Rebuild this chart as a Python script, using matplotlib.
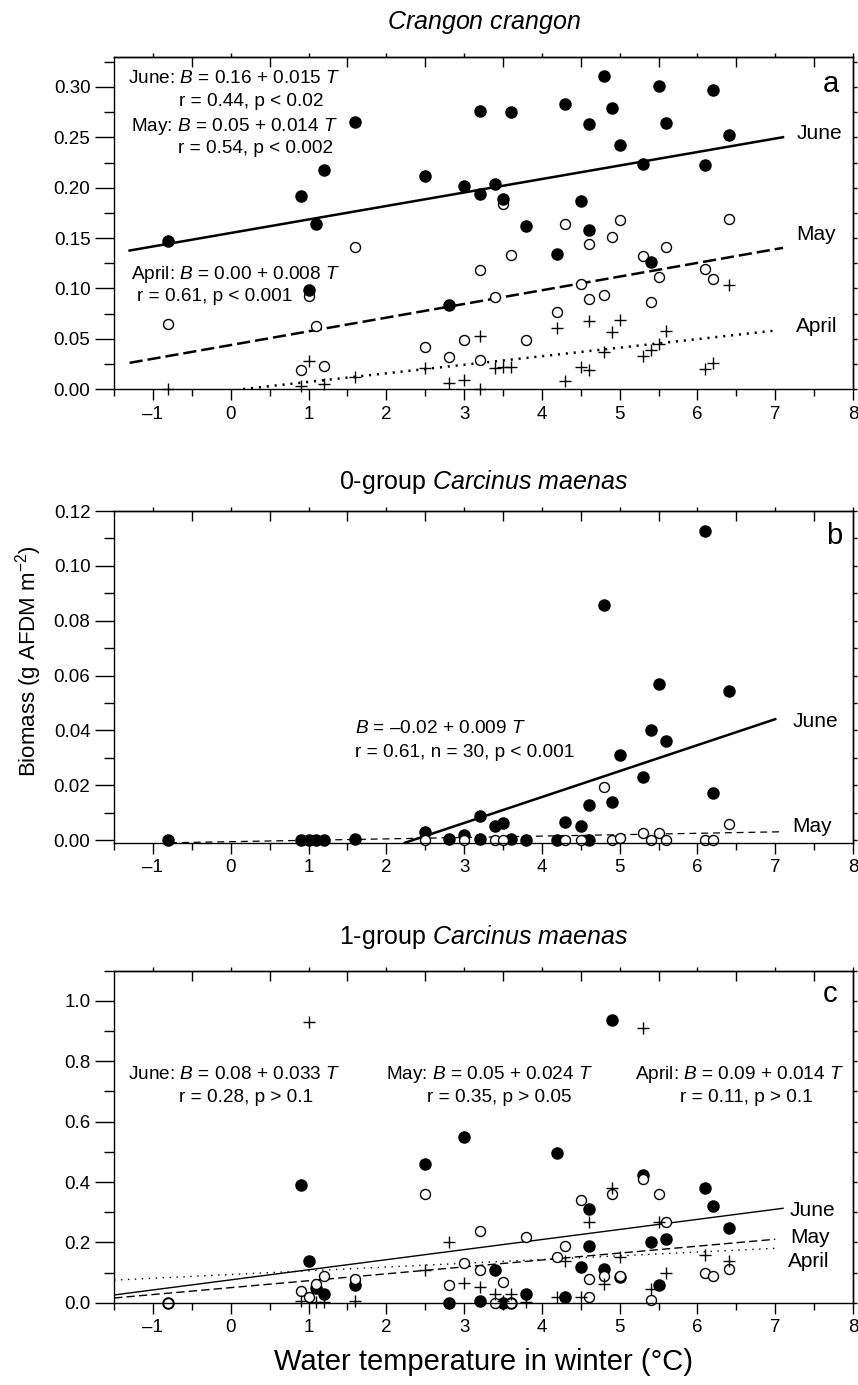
import numpy as np
import matplotlib
matplotlib.use("Agg")
from matplotlib import pyplot as plt
from matplotlib.ticker import MultipleLocator, FormatStrFormatter, FixedLocator

plt.rcParams['font.family'] = ['Liberation Sans', 'DejaVu Sans']
plt.rcParams['mathtext.fontset'] = 'custom'
plt.rcParams['mathtext.rm'] = 'Liberation Sans'
plt.rcParams['mathtext.it'] = 'Liberation Sans:italic'
plt.rcParams['mathtext.bf'] = 'Liberation Sans:bold'
plt.rcParams['lines.scale_dashes'] = False

nan = np.nan

# winter water temperature (deg C), one entry per year
temp = [-0.8, 0.9, 1.0, 1.1, 1.2, 1.6, 2.5, 2.8, 3.0, 3.2, 3.2, 3.4, 3.5, 3.6, 3.8,
        4.2, 4.3, 4.5, 4.6, 4.6, 4.8, 4.9, 5.0, 5.3, 5.4, 5.5, 5.6, 6.1, 6.2, 6.4]

# a: Crangon crangon
a_june = [0.147, 0.192, 0.098, 0.164, 0.218, 0.265, 0.212, 0.083, 0.202, 0.194,
          0.276, 0.204, 0.189, 0.275, 0.162, 0.134, 0.283, 0.187, 0.263, 0.158,
          0.311, 0.279, 0.242, 0.224, 0.126, 0.301, 0.264, 0.223, 0.297, 0.252]
a_may = [0.065, 0.019, 0.092, 0.063, 0.023, 0.141, 0.042, 0.032, 0.049, 0.118,
         0.029, 0.091, 0.184, 0.133, 0.049, 0.077, 0.164, 0.104, 0.144, 0.089,
         0.093, 0.151, 0.168, 0.132, 0.086, 0.111, 0.141, 0.119, 0.109, 0.169]
a_april = [0.000, 0.003, 0.028, nan, 0.005, 0.012, 0.021, 0.006, 0.009, 0.053,
           0.000, 0.021, 0.022, 0.022, nan, 0.061, 0.008, 0.022, 0.019, 0.068,
           0.037, 0.057, 0.069, 0.033, 0.039, 0.045, 0.058, 0.020, 0.026, 0.103]

# b: 0-group Carcinus maenas
b_june = [0.0, 0.0, 0.0, 0.0, 0.0, 0.0003, 0.003, 0.0003, 0.0018, 0.0087,
          0.0003, 0.0051, 0.0063, 0.0004, 0.0, 0.0, 0.0064, 0.0052, 0.0127, 0.0,
          0.0858, 0.0139, 0.0309, 0.0230, 0.0400, 0.0570, 0.0360, 0.1127, 0.0170, 0.0543]
b_may = [nan, nan, nan, nan, nan, nan, 0.0, nan, 0.0, nan,
         nan, 0.0, 0.0, nan, nan, nan, 0.0, 0.0, nan, nan,
         0.0192, 0.0, 0.0008, 0.0026, 0.0, 0.0027, 0.0, 0.0, 0.0, 0.0057]

# c: 1-group Carcinus maenas
c_june = [0.0, 0.389, 0.139, 0.049, 0.029, 0.059, 0.459, 0.0, 0.548, 0.007,
          nan, 0.109, 0.0, 0.0, 0.029, 0.497, 0.020, 0.119, 0.310, 0.189,
          0.111, 0.938, 0.086, 0.422, 0.200, 0.060, 0.211, 0.379, 0.319, 0.249]
c_may = [0.0, 0.040, 0.020, 0.062, 0.089, 0.080, 0.360, 0.060, 0.130, 0.238,
         0.109, 0.0, 0.069, 0.0, 0.219, 0.150, 0.189, 0.340, 0.080, 0.020,
         0.089, 0.360, 0.089, 0.409, 0.009, 0.360, 0.269, 0.098, 0.089, 0.111]
c_april = [nan, 0.007, 0.930, 0.003, 0.003, 0.007, 0.108, 0.200, 0.067, 0.051,
           nan, 0.029, 0.005, 0.029, 0.001, 0.020, 0.139, 0.020, 0.269, nan,
           0.062, 0.381, 0.150, 0.910, 0.045, 0.269, 0.098, 0.158, nan, 0.139]

# regression lines as drawn: intercept, slope, x start, x end  (June, May, April)
a_fit_int = [0.155, 0.0437, -0.0014]
a_fit_slope = [0.0134, 0.0136, 0.0085]
a_fit_x0 = [-1.3, -1.3, 0.16]
a_fit_x1 = [7.1, 7.1, 7.0]

b_fit_int = [-0.0222, -0.0006]
b_fit_slope = [0.00947, 0.00051]
b_fit_x0 = [2.24, -0.78]
b_fit_x1 = [7.0, 7.08]

c_fit_int = [0.0758, 0.050, 0.0935]
c_fit_slope = [0.0334, 0.0229, 0.0124]
c_fit_x0 = [-1.5, -1.5, -1.5]
c_fit_x1 = [7.1, 7.0, 7.05]

xticks = [-1, 0, 1, 2, 3, 4, 5, 6, 7, 8]
xticklabels = ['\u20131', '0', '1', '2', '3', '4', '5', '6', '7', '8']

FS_TICK = 13.5
FS_NOTE = 13.7
FS_LAB = 15
FS_PANEL = 21
FS_TITLE = 18


def setup(ax, ymin, ymax, ystep, fmt):
    ax.set_xlim(-1.5, 8)
    ax.set_ylim(ymin, ymax)
    ax.set_xticks(xticks)
    ax.set_xticklabels(xticklabels)
    ax.xaxis.set_minor_locator(MultipleLocator(0.5))
    ax.yaxis.set_major_locator(MultipleLocator(ystep))
    ax.yaxis.set_minor_locator(MultipleLocator(ystep / 2))
    ax.yaxis.set_major_formatter(FormatStrFormatter(fmt))
    ax.tick_params(which='major', direction='out', width=1, labelsize=FS_TICK)
    ax.tick_params(axis='x', which='major', length=8, pad=4)
    ax.tick_params(axis='y', which='major', length=14, pad=3)
    ax.tick_params(axis='x', which='minor', direction='out', length=5, width=1)
    ax.tick_params(axis='y', which='minor', direction='out', length=7, width=1)
    for s in ax.spines.values():
        s.set_linewidth(1)
    top = ax.secondary_xaxis('top')
    top.set_xticks(xticks)
    top.tick_params(which='major', direction='out', length=3, width=1, labeltop=False)
    top.xaxis.set_minor_locator(FixedLocator(np.arange(-0.5, 8, 1.0)))
    top.tick_params(which='minor', direction='in', length=7, width=1)
    top.spines['top'].set_linewidth(1)
    right = ax.secondary_yaxis('right')
    right.yaxis.set_major_locator(MultipleLocator(ystep / 2))
    right.tick_params(which='major', direction='out', length=3, width=1, labelright=False)
    right.spines['right'].set_linewidth(1)


def fit_line(ax, b0, b1, x0, x1, **kw):
    xs = np.array([x0, x1])
    ax.plot(xs, b0 + b1 * xs, color='black', **kw)


fig = plt.figure(figsize=(8.58, 13.85), dpi=100)
L, W = 0.1329, 0.8613
ax_a = fig.add_axes([L, 0.7191, W, 0.2399])
ax_b = fig.add_axes([L, 0.3915, W, 0.2395])
ax_c = fig.add_axes([L, 0.0594, W, 0.2397])

filled = dict(ls='none', marker='o', ms=8, color='black', clip_on=False)
opened = dict(ls='none', marker='o', ms=7.2, mfc='white', mec='black', mew=1.0, clip_on=False)
cross = dict(ls='none', marker='+', ms=8, color='black', mew=1.0, clip_on=False)

# ---- a
ax = ax_a
setup(ax, 0, 0.33, 0.05, '%.2f')
fit_line(ax, a_fit_int[0], a_fit_slope[0], a_fit_x0[0], a_fit_x1[0], lw=1.8)
fit_line(ax, a_fit_int[1], a_fit_slope[1], a_fit_x0[1], a_fit_x1[1], lw=1.8, ls=(0, (9.5, 3.6)))
fit_line(ax, a_fit_int[2], a_fit_slope[2], a_fit_x0[2], a_fit_x1[2], lw=1.8, ls=(0, (1.5, 4.2)))
ax.plot(temp, a_may, **opened)
ax.plot(temp, a_june, **filled)
ax.plot(temp, a_april, **cross)
ax.text(7.27, 0.254, 'June', fontsize=FS_LAB, va='center')
ax.text(7.27, 0.153, 'May', fontsize=FS_LAB, va='center')
ax.text(7.26, 0.0625, 'April', fontsize=FS_LAB, va='center')
ax.text(7.82, 0.303, 'a', fontsize=FS_PANEL, va='center', ha='right')
ax.text(-1.32, 0.308, 'June: $B$ = 0.16 + 0.015 $T$', fontsize=FS_NOTE, va='center')
ax.text(-0.665, 0.286, 'r = 0.44, p < 0.02', fontsize=FS_NOTE, va='center')
ax.text(-1.28, 0.261, 'May: $B$ = 0.05 + 0.014 $T$', fontsize=FS_NOTE, va='center')
ax.text(-0.68, 0.2385, 'r = 0.54, p < 0.002', fontsize=FS_NOTE, va='center')
ax.text(-1.28, 0.114, 'April: $B$ = 0.00 + 0.008 $T$', fontsize=FS_NOTE, va='center')
ax.text(-1.20, 0.0916, 'r = 0.61, p < 0.001', fontsize=FS_NOTE, va='center')
ax.set_title('$Crangon\\ crangon$', fontsize=FS_TITLE, pad=20)

# ---- b
ax = ax_b
setup(ax, -0.001, 0.12, 0.02, '%.2f')
fit_line(ax, b_fit_int[0], b_fit_slope[0], b_fit_x0[0], b_fit_x1[0], lw=1.8)
fit_line(ax, b_fit_int[1], b_fit_slope[1], b_fit_x0[1], b_fit_x1[1], lw=0.9, ls=(0, (5, 3.5)))
ax.plot(temp, b_june, **filled)
ax.plot(temp, b_may, **opened)
ax.text(7.22, 0.0434, 'June', fontsize=FS_LAB, va='center')
ax.text(7.22, 0.0048, 'May', fontsize=FS_LAB, va='center')
ax.text(7.86, 0.111, 'b', fontsize=FS_PANEL, va='center', ha='right')
ax.text(1.6, 0.0406, '$B$ = \u20130.02 + 0.009 $T$', fontsize=FS_NOTE, va='center')
ax.text(1.6, 0.0321, 'r = 0.61, n = 30, p < 0.001', fontsize=FS_NOTE, va='center')
ax.set_title('0-group $Carcinus\\ maenas$', fontsize=FS_TITLE, pad=16)

# ---- c
ax = ax_c
setup(ax, 0, 1.1, 0.2, '%.1f')
fit_line(ax, c_fit_int[0], c_fit_slope[0], c_fit_x0[0], c_fit_x1[0], lw=1.0)
fit_line(ax, c_fit_int[1], c_fit_slope[1], c_fit_x0[1], c_fit_x1[1], lw=1.0, ls=(0, (6, 3)))
fit_line(ax, c_fit_int[2], c_fit_slope[2], c_fit_x0[2], c_fit_x1[2], lw=1.0, ls=(0, (1, 4)))
ax.plot(temp, c_june, **filled)
ax.plot(temp, c_may, **opened)
ax.plot(temp, c_april, **cross)
ax.text(7.19, 0.304, 'June', fontsize=FS_LAB, va='center')
ax.text(7.19, 0.216, 'May', fontsize=FS_LAB, va='center')
ax.text(7.16, 0.136, 'April', fontsize=FS_LAB, va='center')
ax.text(7.8, 1.024, 'c', fontsize=FS_PANEL, va='center', ha='right')
ax.text(-1.32, 0.757, 'June: $B$ = 0.08 + 0.033 $T$', fontsize=FS_NOTE, va='center')
ax.text(-0.66, 0.680, 'r = 0.28, p > 0.1', fontsize=FS_NOTE, va='center')
ax.text(2.0, 0.757, 'May: $B$ = 0.05 + 0.024 $T$', fontsize=FS_NOTE, va='center')
ax.text(2.52, 0.680, 'r = 0.35, p > 0.05', fontsize=FS_NOTE, va='center')
ax.text(5.2, 0.757, 'April: $B$ = 0.09 + 0.014 $T$', fontsize=FS_NOTE, va='center')
ax.text(5.78, 0.680, 'r = 0.11, p > 0.1', fontsize=FS_NOTE, va='center')
ax.set_title('1-group $Carcinus\\ maenas$', fontsize=FS_TITLE, pad=19)
ax.set_xlabel('Water temperature in winter (\u00b0C)', fontsize=21, labelpad=8)

fig.text(0.033, 0.523, 'Biomass (g AFDM m$^{-2}$)', rotation=90, fontsize=16,
         va='center', ha='center')

fig.savefig('out.png', dpi=100)
